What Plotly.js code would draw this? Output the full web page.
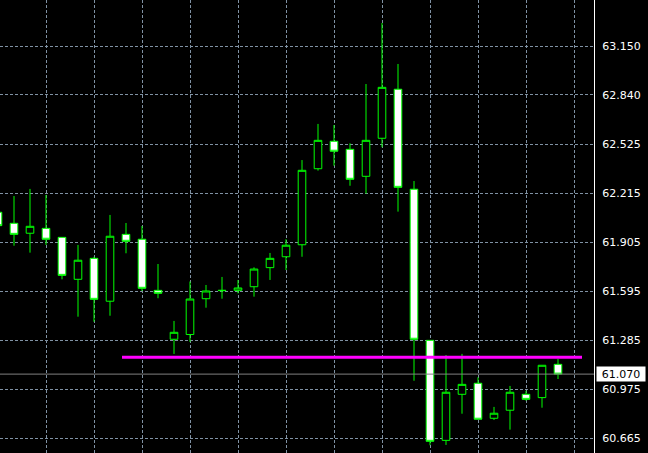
<!DOCTYPE html>
<html><head><meta charset="utf-8">
<script src="https://cdn.plot.ly/plotly-3.0.1.min.js"></script>
<style>html,body{margin:0;padding:0;background:#000;}#chart{width:648px;height:453px;}</style>
</head><body><div id="chart"></div>
<script>
// bar index (time order)
const bars  = [0,1,2,3,4,5,6,7,8,9,10,11,12,13,14,15,16,17,18,19,20,21,22,23,24,25,26,27,28,29,30,31,32,33,34,35];
const open  = [62.096,62.026,61.963,61.994,61.937,61.671,61.804,61.532,61.956,61.925,61.601,61.291,61.321,61.548,61.599,61.601,61.624,61.745,61.814,61.890,62.372,62.546,62.495,62.324,62.565,62.876,62.242,61.284,60.650,60.942,61.012,60.790,60.841,60.942,60.921,61.132];
const high  = [62.110,62.199,62.244,62.206,61.937,61.889,61.814,62.079,62.028,62.009,61.768,61.407,61.657,61.635,61.686,61.667,61.747,61.838,61.925,62.427,62.656,62.649,62.533,62.909,63.296,63.036,62.294,61.286,61.191,61.198,61.050,60.862,60.995,60.965,61.126,61.166];
const low   = [61.996,61.884,61.840,61.889,61.671,61.434,61.402,61.440,61.836,61.597,61.551,61.198,61.274,61.491,61.548,61.582,61.561,61.667,61.730,61.814,62.360,62.391,62.264,62.214,62.508,62.100,61.028,60.619,60.621,60.819,60.784,60.779,60.718,60.902,60.857,61.039];
const close = [62.011,61.956,62.007,61.925,61.696,61.792,61.544,61.944,61.912,61.614,61.582,61.335,61.546,61.597,61.601,61.616,61.736,61.804,61.887,62.362,62.552,62.483,62.305,62.552,62.888,62.254,61.291,60.644,60.955,61.005,60.784,60.822,60.955,60.910,61.126,61.070];

const yTicks = [63.150,62.840,62.525,62.215,61.905,61.595,61.285,60.975,60.665];
const yTickText = ['63.150','62.840','62.525','62.215','61.905','61.595','61.285','60.975','60.665'];
const xGrid = [3,6,9,12,15,18,21,24,27,30,33,36];

// horizontal level line (magenta)
const levelPrice = 61.177;
const levelFrom = 7.75;
const levelTo = 36.5;

const GREEN = '#00ff00';
const lastClose = close[close.length-1];

const trace = {
  type: 'candlestick',
  x: bars, open: open, high: high, low: low, close: close,
  increasing: {line: {color: GREEN, width: 1}, fillcolor: '#000000'},
  decreasing: {line: {color: GREEN, width: 1}, fillcolor: '#ffffff'},
  whiskerwidth: 0,
  hoverinfo: 'skip',
  showlegend: false
};

const layout = {
  width: 648, height: 453,
  margin: {l: 0, r: 54, t: 0, b: 0, pad: 0},
  paper_bgcolor: '#000000',
  plot_bgcolor: '#000000',
  showlegend: false,
  boxgap: 0.32,
  xaxis: {
    range: [0.125, 37.25],
    rangeslider: {visible: false},
    tickvals: xGrid, showticklabels: false, ticks: '',
    showgrid: true, gridcolor: '#8092a4', griddash: '3px,2px', gridwidth: 1,
    zeroline: false, showline: false, fixedrange: true
  },
  yaxis: {
    side: 'right',
    range: [60.5699, 63.4416],
    tickvals: yTicks, ticktext: yTickText, ticks: '',
    ticklabelstandoff: 5,
    tickfont: {family: 'DejaVu Sans', size: 11, color: '#ffffff'},
    showgrid: true, gridcolor: '#8092a4', griddash: '3px,2px', gridwidth: 1,
    zeroline: false,
    showline: true, linecolor: '#ffffff', linewidth: 1,
    fixedrange: true
  },
  shapes: [
    {type: 'line', xref: 'paper', yref: 'y', x0: 0, x1: 1, y0: lastClose, y1: lastClose,
     line: {color: '#808080', width: 1}, layer: 'above'},
    {type: 'line', xref: 'x', yref: 'y', x0: levelFrom, x1: levelTo, y0: levelPrice, y1: levelPrice,
     line: {color: '#ff00ff', width: 3}, layer: 'above'}
  ],
  annotations: [
    {xref: 'paper', yref: 'y', x: 1, y: lastClose, xanchor: 'left', yanchor: 'middle',
     xshift: 2, text: lastClose.toFixed(3), showarrow: false,
     bgcolor: '#ffffff', font: {family: 'DejaVu Sans', size: 11, color: '#000000'},
     borderpad: 1, width: 46, height: 12, align: 'center'}
  ]
};

Plotly.newPlot('chart', [trace], layout, {staticPlot: true, displayModeBar: false});
</script></body></html>
